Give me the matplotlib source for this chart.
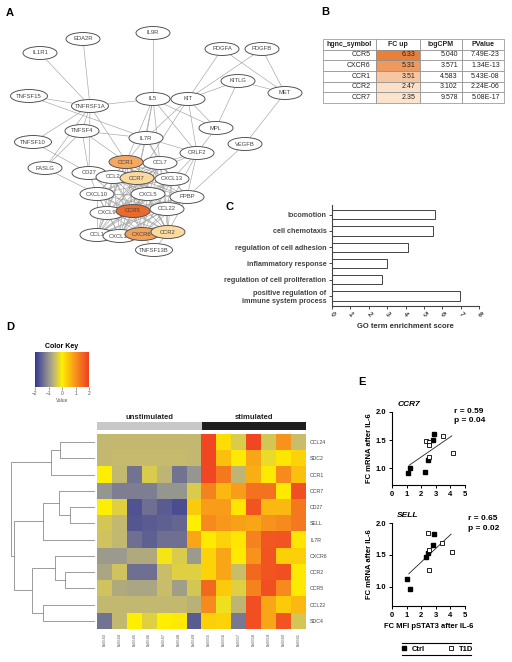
import numpy as np
import matplotlib
matplotlib.use('Agg')
import matplotlib.pyplot as plt
from matplotlib.patches import Ellipse
from matplotlib.colors import LinearSegmentedColormap
from itertools import combinations

plt.rcParams['font.family'] = ['Liberation Sans', 'DejaVu Sans']

# ---------------- data ----------------
# A: network (layout positions in pixels)
node_pos = {
    'EDA2R': (83, 39), 'IL9R': (153, 33), 'IL1R1': (40, 53), 'PDGFA': (222, 49),
    'PDGFB': (262, 49), 'KITLG': (238, 81), 'MET': (285, 93), 'TNFSF15': (29, 96),
    'TNFRSF1A': (90, 106), 'IL5': (153, 99), 'KIT': (188, 99), 'MPL': (216, 128),
    'TNFSF4': (82, 131), 'TNFSF10': (33, 142), 'IL7R': (146, 138), 'VEGFB': (245, 144),
    'CRLF2': (197, 153), 'FASLG': (45, 168), 'CD27': (89, 173), 'CCL2': (113, 177),
    'CCL7': (160, 163), 'CCR1': (126, 162), 'CXCL13': (172, 179), 'CCR7': (137, 178),
    'CXCL10': (97, 194), 'CXCL5': (148, 194), 'PPBP': (187, 197), 'CXCL9': (107, 213),
    'CCL22': (167, 209), 'CCR5': (133, 211), 'CCL1': (97, 235), 'CXCL11': (120, 236),
    'TNFSF13B': (154, 250), 'CXCR6': (142, 234), 'CCR2': (168, 232),
}
node_fill = {'CCR5': '#E86B2D', 'CXCR6': '#F2A058', 'CCR1': '#F4A862',
             'CCR7': '#FDD89C', 'CCR2': '#FDDA9F'}
edges = [
    ('IL1R1', 'TNFRSF1A'), ('EDA2R', 'TNFRSF1A'), ('TNFSF15', 'TNFRSF1A'), ('TNFSF15', 'IL7R'),
    ('TNFRSF1A', 'IL5'), ('TNFRSF1A', 'TNFSF4'), ('TNFRSF1A', 'TNFSF10'), ('TNFRSF1A', 'CD27'),
    ('TNFRSF1A', 'CCR7'), ('TNFRSF1A', 'FASLG'), ('TNFSF4', 'IL7R'), ('TNFSF4', 'CD27'),
    ('TNFSF4', 'FASLG'), ('TNFSF4', 'CCR1'), ('TNFSF10', 'CD27'), ('FASLG', 'CXCL10'),
    ('IL9R', 'IL5'), ('IL5', 'KIT'), ('IL5', 'IL7R'), ('IL5', 'CCR1'), ('IL5', 'CCL7'),
    ('IL5', 'CCR7'), ('IL5', 'CRLF2'), ('IL5', 'MPL'), ('KIT', 'PDGFA'), ('KIT', 'PDGFB'),
    ('KIT', 'KITLG'), ('KIT', 'MPL'), ('KIT', 'IL7R'), ('KIT', 'CRLF2'), ('KIT', 'CCR7'),
    ('PDGFA', 'MET'), ('PDGFB', 'MET'), ('KITLG', 'MET'), ('KITLG', 'MPL'), ('MET', 'VEGFB'),
    ('MPL', 'CRLF2'), ('VEGFB', 'PPBP'), ('IL7R', 'CRLF2'), ('IL7R', 'CCR1'), ('IL7R', 'CCL7'),
    ('IL7R', 'CCR7'), ('IL7R', 'CXCL13'), ('CRLF2', 'CXCL13'), ('CRLF2', 'PPBP'),
    ('CRLF2', 'CCR7'), ('CRLF2', 'CCL22'), ('CRLF2', 'CCL7'), ('CD27', 'CCR7'),
    ('CD27', 'CCL2'), ('CD27', 'CXCL10'), ('CD27', 'CCR5'), ('TNFSF13B', 'CXCR6'),
    ('TNFSF13B', 'CCR2'),
]
cluster = ['CCR1', 'CCL7', 'CCL2', 'CCR7', 'CXCL13', 'CXCL10', 'CXCL5', 'PPBP', 'CXCL9',
           'CCR5', 'CCL22', 'CCL1', 'CXCL11', 'CXCR6', 'CCR2']

# B: table
tbl_cols = ['hgnc_symbol', 'FC up', 'logCPM', 'PValue']
genes = ['CCR5', 'CXCR6', 'CCR1', 'CCR2', 'CCR7']
fc_up = [6.33, 5.31, 3.51, 2.47, 2.35]
log_cpm = [5.040, 3.571, 4.583, 3.102, 9.578]
pvalue = ['7.49E-23', '1.34E-13', '5.43E-08', '2.24E-06', '5.08E-17']

# C: GO terms
go_terms = ['locomotion', 'cell chemotaxis', 'regulation of cell adhesion',
            'inflammatory response', 'regulation of cell proliferation',
            'positive regulation of\nimmune system process']
go_scores = [5.6, 5.52, 4.15, 3.01, 2.74, 6.97]

# D: heatmap
hm_rows = ['CCL24', 'SDC2', 'CCR1', 'CCR7', 'CD27', 'SELL', 'IL7R', 'CXCR6', 'CCR2',
           'CCR5', 'CCL22', 'SDC4']
hm_cols = ['lib5543', 'lib5544', 'lib5545', 'lib5546', 'lib5547', 'lib5548', 'lib5549',
           'lib5555', 'lib5556', 'lib5557', 'lib5558', 'lib5559', 'lib5560', 'lib5561']
groups = ['unstimulated', 'stimulated']
group_sizes = [7, 7]
hm_values = np.array([
    [-0.55, -0.55, -0.55, -0.55, -0.55, -0.55, -0.55, 1.9, 0.2, -0.35, 1.9, -0.4, 1.0, -0.5],
    [-0.55, -0.52, -0.52, -0.52, -0.52, -0.52, -0.55, 1.9, 0.5, 0.05, 0.8, -0.2, 0.1, 0.3],
    [0.0, -0.55, -1.35, -0.35, -0.6, -1.35, -1.0, 1.9, 1.3, -0.6, 0.7, 0.05, 1.1, 0.5],
    [-1.0, -1.25, -1.25, -1.25, -1.0, -1.0, -0.35, 1.2, 0.6, 0.9, 1.4, 1.4, 0.05, 1.8],
    [0.0, -0.3, -1.7, -1.4, -1.6, -1.75, 0.4, 0.9, 0.9, 0.1, 1.75, 0.6, 0.6, 1.3],
    [-0.4, -0.55, -1.65, -1.6, -1.55, -1.5, 0.0, 1.1, 0.95, 0.85, 0.8, 1.0, 1.1, 1.3],
    [-0.45, -0.55, -1.4, -1.55, -1.4, -1.4, 0.8, 0.05, 0.3, 0.1, 1.2, 1.7, 1.75, 0.1],
    [-0.95, -0.95, -0.75, -0.75, -0.1, -0.35, -0.95, 0.3, 0.8, 0.05, 1.0, 1.75, 0.35, 0.35],
    [-0.8, -0.45, -1.4, -1.4, -0.5, -0.3, -0.3, 0.3, 0.8, -0.5, 1.5, 1.75, 1.8, 0.05],
    [-0.45, -0.75, -0.8, -0.8, -0.5, -0.9, -0.4, 1.5, 0.4, -0.3, 1.2, 1.8, 1.1, 0.05],
    [-0.55, -0.55, -0.55, -0.55, -0.55, -0.55, -0.65, 1.1, -0.15, -0.6, 1.8, 0.8, 0.4, 0.6],
    [-1.35, -0.55, 0.0, -0.3, 0.0, 0.05, -1.6, 0.35, 0.3, -1.3, 1.8, 0.8, 1.75, -0.4],
])
# row dendrogram: (child a, child b, height); leaves 0..11, merges numbered from 12
row_links = [(0, 1, 35), (12, 2, 44), (4, 5, 25), (3, 14, 36), (15, 6, 52), (8, 9, 30),
             (7, 17, 40), (10, 11, 52), (18, 19, 63), (16, 20, 81), (13, 21, 84)]

# E: scatter
ccr7_ctrl_x = [1.07, 1.23, 2.26, 2.49, 2.78, 2.88]
ccr7_ctrl_y = [0.92, 1.01, 0.93, 1.14, 1.50, 1.61]
ccr7_t1d_x = [2.33, 2.53, 2.53, 2.56, 3.51, 4.15]
ccr7_t1d_y = [1.49, 1.47, 1.41, 1.19, 1.58, 1.27]
sell_ctrl_x = [1.05, 1.25, 2.30, 2.45, 2.80, 2.90]
sell_ctrl_y = [1.13, 0.97, 1.47, 1.53, 1.66, 1.83]
sell_t1d_x = [2.45, 2.50, 2.55, 3.45, 4.10]
sell_t1d_y = [1.85, 1.58, 1.26, 1.68, 1.54]

# ---------------- figure ----------------
W, H = 512, 662
fig = plt.figure(figsize=(W / 100, H / 100), dpi=100)
bg = fig.add_axes([0, 0, 1, 1], zorder=0)
bg.set_xlim(0, W)
bg.set_ylim(H, 0)
bg.axis('off')


def px_axes(x0, y0, x1, y1):
    return fig.add_axes([x0 / W, 1 - y1 / H, (x1 - x0) / W, (y1 - y0) / H], zorder=2)


for lab, (x, y) in {'A': (10, 13), 'B': (325, 12), 'C': (229, 207),
                    'D': (10, 327), 'E': (362, 382)}.items():
    bg.text(x, y, lab, fontsize=8, fontweight='bold', ha='center', va='center')

# A
all_edges = edges + list(combinations(cluster, 2))
for a, b in all_edges:
    (xa, ya), (xb, yb) = node_pos[a], node_pos[b]
    bg.plot([xa, xb], [ya, yb], color='#a3a3a3', lw=0.45, zorder=1)
for i, (name, (x, y)) in enumerate(node_pos.items()):
    w = 34 if len(name) <= 6 else 37
    bg.add_patch(Ellipse((x, y), w, 13, facecolor=node_fill.get(name, 'white'),
                         edgecolor='#555555', lw=0.7, zorder=2 + 2 * i))
    bg.text(x, y, name, fontsize=4.2, color='#444444', ha='center', va='center',
            zorder=3 + 2 * i)

# B
fc_cmap = LinearSegmentedColormap.from_list('fc', ['#FDEBD9', '#E8803A'])
cells = [[g, f'{f:.2f}', f'{c:.3f}', p] for g, f, c, p in zip(genes, fc_up, log_cpm, pvalue)]
tbl = bg.table(cellText=cells, colLabels=tbl_cols, cellLoc='right', colLoc='center',
               colWidths=[53, 44, 42, 42],
               bbox=[323 / W, 1 - 103 / H, 181 / W, 64 / H])
tbl.auto_set_font_size(False)
tbl.set_fontsize(5)
for (r, c), cell in tbl.get_celld().items():
    cell.set_edgecolor('#8a8a8a')
    cell.set_linewidth(0.5)
    cell.get_text().set_color('#222222')
    if r == 0:
        cell.get_text().set_fontweight('bold')
    elif c == 0:
        cell._loc = 'left'
    if r > 0 and c == 1:
        cell.set_facecolor(fc_cmap((fc_up[r - 1] - 2.0) / 4.33))

# C
axc = px_axes(332, 205, 479, 305.7)
ypos = np.arange(len(go_terms))
axc.barh(ypos, go_scores, height=0.58, color='white', edgecolor='#444444', lw=0.7)
axc.set_ylim(5.6, -0.6)
axc.set_xlim(0, 8)
axc.set_yticks(ypos)
axc.set_yticklabels(go_terms, fontsize=5.2, fontweight='bold', color='#333333')
axc.set_xticks(range(9))
axc.set_xticklabels(range(9), fontsize=5, fontweight='bold', rotation=-50,
                    ha='center', color='#333333')
axc.set_xlabel('GO term enrichment score', fontsize=5.5, fontweight='bold',
               color='#333333', labelpad=3)
for s in ['top', 'right']:
    axc.spines[s].set_visible(False)
for s in ['left', 'bottom']:
    axc.spines[s].set_linewidth(0.8)
    axc.spines[s].set_color('#444444')
axc.tick_params(length=2.5, width=0.7, pad=1.5, colors='#444444')

# D
key_cmap = LinearSegmentedColormap.from_list(
    'key', [(0, (0.20, 0.21, 0.57)), (0.25, (0.59, 0.59, 0.57)),
            (0.375, (0.79, 0.74, 0.42)), (0.5, (1.0, 0.94, 0.0)),
            (0.75, (0.97, 0.58, 0.11)), (1, (0.94, 0.25, 0.14))])
axk = px_axes(35, 352, 89, 387)
axk.imshow(np.linspace(-2, 2, 256)[None, :], cmap=key_cmap, aspect='auto',
           extent=[-2, 2, 0, 1])
axk.set_yticks([])
axk.set_xticks([-2, -1, 0, 1, 2])
axk.tick_params(labelsize=3.5, length=2, width=0.4, pad=1, colors='#555555')
axk.set_xlabel('Value', fontsize=3.5, labelpad=1, color='#555555')
axk.set_title('Color Key', fontsize=5, fontweight='bold', pad=3)
for s in axk.spines.values():
    s.set_visible(False)

axh = px_axes(97, 434, 306, 629)
axh.imshow(hm_values, cmap=key_cmap, vmin=-2, vmax=2, aspect='auto',
           interpolation='nearest')
axh.set_yticks(range(len(hm_rows)))
axh.set_yticklabels(hm_rows, fontsize=3.8, color='#444444')
axh.yaxis.tick_right()
axh.set_xticks(range(len(hm_cols)))
axh.set_xticklabels(hm_cols, fontsize=3, rotation=90, color='#555555')
axh.tick_params(length=0, pad=3)
for s in axh.spines.values():
    s.set_visible(False)

axg = px_axes(97, 422, 306, 430)
left = 0
for g, n, col in zip(groups, group_sizes, ['#C8C8C8', '#1E1E1E']):
    axg.barh([0], [n], left=left, height=1, color=col)
    axg.text(left + n / 2, 0.6, g, fontsize=5.5, fontweight='bold', ha='center',
             va='bottom', color='#222222')
    left += n
axg.set_xlim(0, sum(group_sizes))
axg.set_ylim(-0.5, 0.5)
axg.axis('off')

axd = px_axes(7, 434, 95, 629)
ys = {i: float(i) for i in range(len(hm_rows))}
hs = {i: 0.0 for i in range(len(hm_rows))}
for k, (a, b, h) in enumerate(row_links):
    nid = len(hm_rows) + k
    axd.plot([hs[a], h, h, hs[b]], [ys[a], ys[a], ys[b], ys[b]], color='#8c8c8c', lw=0.6)
    ys[nid] = (ys[a] + ys[b]) / 2
    hs[nid] = h
axd.set_xlim(88, 0)
axd.set_ylim(len(hm_rows) - 0.5, -0.5)
axd.axis('off')


# E
def scatter_panel(box, title, cx, cy, tx, ty, rtxt, rpos):
    ax = px_axes(*box)
    ax.patch.set_alpha(0)
    ax.plot(cx, cy, 's', color='black', ms=2.6, zorder=3)
    ax.plot(tx, ty, 's', mfc='white', mec='black', mew=0.6, ms=2.6, zorder=3)
    allx = np.array(cx + tx)
    ally = np.array(cy + ty)
    k, b0 = np.polyfit(allx, ally, 1)
    xl = np.array([allx.min() + 0.1, allx.max() - 0.05])
    ax.plot(xl, k * xl + b0, color='#222222', lw=0.6)
    ax.set_xlim(0, 5)
    ax.set_ylim(0.7, 2.0)
    ax.set_xticks(range(6))
    ax.set_yticks([1.0, 1.5, 2.0])
    ax.set_yticklabels(['1.0', '1.5', '2.0'])
    for s in ['top', 'right']:
        ax.spines[s].set_visible(False)
    for s in ['left', 'bottom']:
        ax.spines[s].set_linewidth(0.8)
    ax.tick_params(labelsize=5.5, length=2.5, width=0.7, pad=1.5)
    for t in ax.get_xticklabels() + ax.get_yticklabels():
        t.set_fontweight('bold')
    ax.set_ylabel('FC mRNA after IL-6', fontsize=5.5, fontweight='bold', labelpad=2)
    ax.text(0.07, 1.05, title, transform=ax.transAxes, fontsize=6, fontweight='bold',
            fontstyle='italic', ha='left', va='bottom')
    bg.text(rpos[0], rpos[1], rtxt, fontsize=6, fontweight='bold', ha='left', va='top',
            linespacing=1.5, zorder=3)
    return ax


scatter_panel((392, 412, 465, 485), 'CCR7', ccr7_ctrl_x, ccr7_ctrl_y, ccr7_t1d_x,
              ccr7_t1d_y, 'r = 0.59\np = 0.04', (454, 408))
axs = scatter_panel((392, 523, 465, 606), 'SELL', sell_ctrl_x, sell_ctrl_y, sell_t1d_x,
                    sell_t1d_y, 'r = 0.65\np = 0.02', (468, 515))
axs.set_xlabel('FC MFI pSTAT3 after IL-6', fontsize=5.5, fontweight='bold', labelpad=3)

h1, = bg.plot([], [], 's', color='black', ms=2.6)
h2, = bg.plot([], [], 's', mfc='white', mec='black', mew=0.6, ms=2.6)
leg = axs.legend([h1, h2], ['Ctrl', 'T1D'], ncol=2, frameon=False, fontsize=5.5,
                 loc='center', bbox_to_anchor=(437 / W, 1 - 649 / H),
                 bbox_transform=fig.transFigure, handlelength=0.8, handletextpad=0.6,
                 columnspacing=3)
for t in leg.get_texts():
    t.set_fontweight('bold')
bg.plot([402, 471], [643, 643], color='black', lw=0.8)
bg.plot([402, 471], [655, 655], color='black', lw=0.8)

fig.savefig('out.png', dpi=100)
